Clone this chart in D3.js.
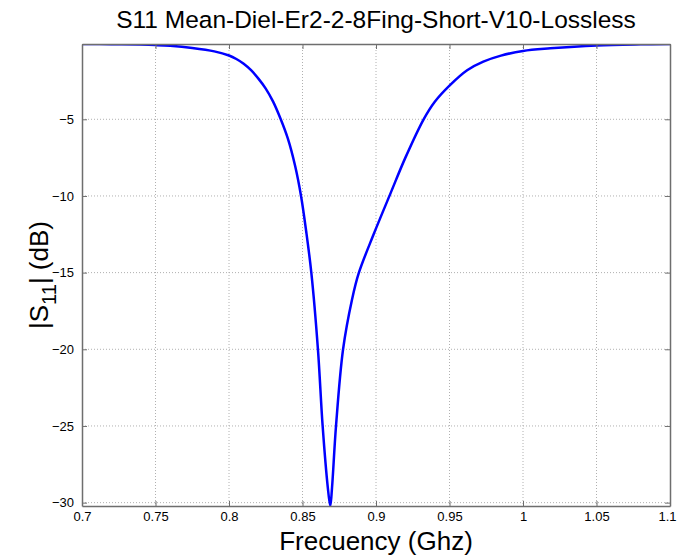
<!DOCTYPE html>
<html>
<head>
<meta charset="utf-8">
<script src="https://cdn.jsdelivr.net/npm/d3@7"></script>
<style>
  body { margin: 0; background: #fff; }
  svg { display: block; font-family: Arial, "Liberation Sans", sans-serif; }
</style>
</head>
<body>
<div id="chart"></div>
<script>
// S11 readings, frequency in GHz and magnitude in dB
var freq = [0.70, 0.72, 0.74, 0.75, 0.76, 0.775, 0.79, 0.80, 0.805, 0.81, 0.815, 0.82, 0.825, 0.83, 0.835,
            0.840, 0.845, 0.849, 0.8525, 0.856, 0.8605, 0.8637, 0.8672, 0.8689, 0.8701, 0.8728,
            0.8776, 0.8837, 0.8882, 0.8984, 0.91, 0.92, 0.9324, 0.94, 0.95, 0.962, 0.973, 0.985,
            1.0, 1.0185, 1.05, 1.08, 1.1];
var s11 = [-0.09, -0.10, -0.13, -0.16, -0.21, -0.35, -0.57, -0.84, -1.07, -1.38, -1.8, -2.35, -3.0, -3.85, -4.95,
           -6.25, -8.05, -10.0, -12.3, -15.0, -20.0, -25.0, -29.0, -30.22, -29.0, -25.0,
           -20.0, -16.75, -15.05, -12.5, -9.8, -7.5, -5.0, -3.85, -2.8, -1.8, -1.24, -0.85,
           -0.54, -0.37, -0.18, -0.11, -0.09];
var xTicks = [0.7, 0.75, 0.8, 0.85, 0.9, 0.95, 1, 1.05, 1.1];
var yTicks = [-30, -25, -20, -15, -10, -5];

var width = 678, height = 556;
var margin = {top: 44, right: 8, bottom: 50, left: 82};
var w = width - margin.left - margin.right;
var h = height - margin.top - margin.bottom;

var data = freq.map(function(f, i) { return {f: f, v: s11[i]}; });

var x = d3.scaleLinear().domain([0.7, 1.1]).range([0, w]);
var y = d3.scaleLinear().domain(d3.extent(s11)).range([h, 0]);

var svg = d3.select("#chart").append("svg")
    .attr("width", width)
    .attr("height", height);

var g = svg.append("g")
    .attr("transform", "translate(" + margin.left + "," + margin.top + ")");

// grid
g.append("g")
    .selectAll("line")
    .data(xTicks.slice(1, -1))
    .enter().append("line")
    .attr("x1", d => x(d)).attr("x2", d => x(d))
    .attr("y1", 0).attr("y2", h)
    .attr("stroke", "#b0b0b0")
    .attr("stroke-dasharray", "1,2");

g.append("g")
    .selectAll("line")
    .data(yTicks)
    .enter().append("line")
    .attr("x1", 0).attr("x2", w)
    .attr("y1", d => y(d)).attr("y2", d => y(d))
    .attr("stroke", "#b0b0b0")
    .attr("stroke-dasharray", "1,2");

g.append("clipPath").attr("id", "clip")
    .append("rect").attr("width", w).attr("height", h);

var line = d3.line()
    .x(d => x(d.f))
    .y(d => y(d.v))
    .curve(d3.curveCatmullRom.alpha(0.5));

g.append("path")
    .datum(data)
    .attr("clip-path", "url(#clip)")
    .attr("fill", "none")
    .attr("stroke", "#0000ff")
    .attr("stroke-width", 2.5)
    .attr("d", line);

// axes, MATLAB style ticks pointing inward
var axisColor = "#6e6e6e";

var xAxis = g.append("g")
    .attr("transform", "translate(0," + h + ")")
    .call(d3.axisBottom(x).tickValues(xTicks).tickSizeInner(-5).tickSizeOuter(0).tickPadding(6).tickFormat(d3.format("")));

var xTop = g.append("g")
    .call(d3.axisTop(x).tickValues(xTicks).tickSizeInner(-5).tickSizeOuter(0).tickFormat(""));

var yAxis = g.append("g")
    .call(d3.axisLeft(y).tickValues(yTicks).tickSizeInner(-5).tickSizeOuter(0).tickPadding(8));

var yRight = g.append("g")
    .attr("transform", "translate(" + w + ",0)")
    .call(d3.axisRight(y).tickValues(yTicks).tickSizeInner(-5).tickSizeOuter(0).tickFormat(""));

[xAxis, xTop, yAxis, yRight].forEach(function(a) {
    a.select(".domain").attr("stroke", axisColor).attr("stroke-width", 1.5);
    a.selectAll(".tick line").attr("stroke", axisColor);
    a.selectAll("text").attr("fill", "#000").style("font-size", "13px")
        .style("font-family", "Arial, 'Liberation Sans', sans-serif");
});
// last label sits at the window edge
xAxis.selectAll(".tick text").filter(d => d === 1.1).attr("dx", -3);

// title and labels
svg.append("text")
    .attr("x", margin.left + w / 2)
    .attr("y", 28)
    .attr("text-anchor", "middle")
    .style("font-size", "24.5px")
    .text("S11 Mean-Diel-Er2-2-8Fing-Short-V10-Lossless");

svg.append("text")
    .attr("x", margin.left + w / 2)
    .attr("y", 550)
    .attr("text-anchor", "middle")
    .style("font-size", "26px")
    .text("Frecuency (Ghz)");

var yl = svg.append("text")
    .attr("transform", "translate(48," + (margin.top + h / 2) + ") rotate(-90)")
    .attr("text-anchor", "middle")
    .style("font-size", "26px");
yl.append("tspan").text("|S");
yl.append("tspan").attr("dy", 8).style("font-size", "20px").text("11");
yl.append("tspan").attr("dy", -8).text("| (dB)");
</script>
</body>
</html>
